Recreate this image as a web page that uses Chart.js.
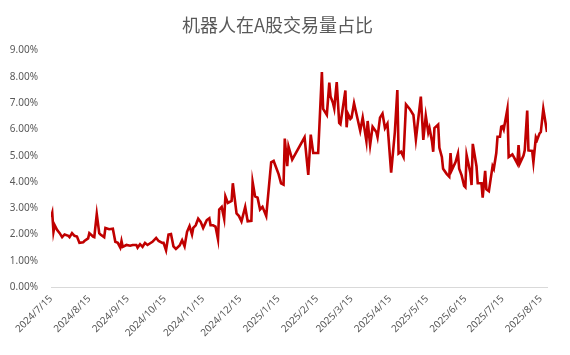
<!DOCTYPE html>
<html>
<head>
<meta charset="utf-8">
<script src="https://cdn.jsdelivr.net/npm/chart.js@4/dist/chart.umd.min.js"></script>
<style>
  html, body { margin: 0; padding: 0; background: #fff; }
  #wrap { width: 570px; height: 355px; }
</style>
</head>
<body>
<div id="wrap"><canvas id="shareChart" width="570" height="355"></canvas></div>
<script>
// trading dates and robot share of A-share turnover (%)
var dates = [
  '2024/7/15','2024/7/16','2024/7/17','2024/7/18','2024/7/20','2024/7/22','2024/7/24','2024/7/26','2024/7/29','2024/7/30',
  '2024/8/1','2024/8/3','2024/8/5','2024/8/7','2024/8/10','2024/8/11','2024/8/14','2024/8/15','2024/8/18','2024/8/19',
  '2024/8/21','2024/8/23','2024/8/24','2024/8/27','2024/8/28','2024/8/31','2024/9/3','2024/9/5','2024/9/7','2024/9/9',
  '2024/9/10','2024/9/11','2024/9/14','2024/9/17','2024/9/19','2024/9/22','2024/9/23','2024/9/25','2024/9/27','2024/9/29',
  '2024/10/1','2024/10/5','2024/10/8','2024/10/10','2024/10/13','2024/10/14','2024/10/16','2024/10/18','2024/10/20','2024/10/22',
  '2024/10/24','2024/10/27','2024/10/29','2024/10/31','2024/11/2','2024/11/4','2024/11/6','2024/11/7','2024/11/9','2024/11/11',
  '2024/11/13','2024/11/15','2024/11/17','2024/11/18','2024/11/20','2024/11/21','2024/11/23','2024/11/25','2024/11/27','2024/11/28',
  '2024/11/30','2024/12/2','2024/12/3','2024/12/5','2024/12/8','2024/12/9','2024/12/12','2024/12/14','2024/12/16','2024/12/19',
  '2024/12/21','2024/12/24','2024/12/25','2024/12/27','2024/12/29','2024/12/31','2025/1/2','2025/1/5','2025/1/9','2025/1/11',
  '2025/1/15','2025/1/17','2025/1/19','2025/1/20','2025/1/22','2025/1/23','2025/1/26','2025/2/5','2025/2/8','2025/2/10',
  '2025/2/12','2025/2/16','2025/2/19','2025/2/20','2025/2/23','2025/2/25','2025/2/26','2025/2/28','2025/3/1','2025/3/3',
  '2025/3/5','2025/3/6','2025/3/10','2025/3/11','2025/3/12','2025/3/14','2025/3/15','2025/3/17','2025/3/19','2025/3/22',
  '2025/3/24','2025/3/27','2025/3/28','2025/3/30','2025/4/1','2025/4/4','2025/4/5','2025/4/7','2025/4/9','2025/4/11',
  '2025/4/13','2025/4/16','2025/4/19','2025/4/21','2025/4/22','2025/4/24','2025/4/26','2025/4/28','2025/5/1','2025/5/4',
  '2025/5/6','2025/5/10','2025/5/12','2025/5/14','2025/5/16','2025/5/17','2025/5/19','2025/5/20','2025/5/21','2025/5/24',
  '2025/5/25','2025/5/27','2025/5/28','2025/5/31','2025/6/2','2025/6/3','2025/6/4','2025/6/7','2025/6/9','2025/6/10',
  '2025/6/12','2025/6/14','2025/6/15','2025/6/16','2025/6/19','2025/6/20','2025/6/21','2025/6/24','2025/6/25','2025/6/28',
  '2025/6/29','2025/7/1','2025/7/2','2025/7/4','2025/7/7','2025/7/8','2025/7/10','2025/7/11','2025/7/13','2025/7/14',
  '2025/7/15','2025/7/16','2025/7/19','2025/7/20','2025/7/23','2025/7/25','2025/7/27','2025/7/28','2025/7/29','2025/8/1',
  '2025/8/2','2025/8/4','2025/8/5','2025/8/8','2025/8/9','2025/8/11','2025/8/12','2025/8/14','2025/8/15','2025/8/17',
  '2025/8/20'
];
var shares = [
  2.65, 2.82, 2.10, 2.35, 2.17, 2.05, 1.90, 2.00, 1.95, 1.90,
  2.05, 1.95, 1.92, 1.68, 1.70, 1.75, 1.85, 2.05, 1.92, 1.90,
  2.78, 2.05, 2.00, 1.90, 2.25, 2.20, 2.22, 1.72, 1.68, 1.50,
  1.75, 1.53, 1.60, 1.57, 1.60, 1.60, 1.50, 1.63, 1.53, 1.68,
  1.60, 1.72, 1.87, 1.75, 1.68, 1.68, 1.40, 2.00, 2.02, 1.55,
  1.45, 1.58, 1.78, 1.55, 2.10, 2.32, 2.00, 2.25, 2.35, 2.60,
  2.48, 2.25, 2.45, 2.55, 2.62, 2.35, 2.35, 2.30, 1.82, 2.95,
  3.05, 2.60, 3.45, 3.20, 3.28, 3.95, 2.80, 2.70, 2.50, 3.05,
  2.50, 2.52, 4.00, 3.45, 3.40, 2.95, 3.05, 2.70, 4.75, 4.80,
  4.30, 3.95, 3.90, 5.65, 4.60, 5.35, 4.85, 5.70, 4.27, 5.80,
  5.10, 5.10, 8.18, 6.78, 6.55, 7.78, 7.25, 7.00, 6.80, 7.80,
  6.25, 6.20, 7.48, 6.08, 6.60, 6.40, 6.45, 7.00, 6.58, 5.95,
  6.45, 5.55, 6.32, 5.40, 6.10, 5.90, 5.70, 6.45, 6.60, 6.05,
  6.22, 4.35, 5.90, 7.50, 5.08, 5.15, 4.95, 6.95, 6.78, 6.55,
  5.62, 7.25, 5.60, 6.52, 5.88, 6.05, 5.55, 5.15, 6.05, 6.18,
  5.30, 4.95, 4.50, 4.30, 4.20, 5.10, 4.45, 4.75, 5.08, 4.50,
  4.25, 3.85, 3.80, 5.02, 4.35, 3.88, 5.45, 4.60, 3.95, 3.95,
  3.40, 4.42, 3.72, 3.65, 4.60, 4.50, 5.10, 5.72, 5.72, 6.10,
  6.12, 6.00, 6.78, 4.95, 5.05, 4.88, 4.70, 5.40, 4.70, 5.00,
  5.20, 6.72, 5.20, 5.18, 4.75, 5.70, 5.60, 5.85, 5.90, 6.78,
  5.90
];
var tickDates = ['2024/7/15','2024/8/15','2024/9/15','2024/10/15','2024/11/15','2024/12/15',
  '2025/1/15','2025/2/15','2025/3/15','2025/4/15','2025/5/15','2025/6/15','2025/7/15','2025/8/15'];
var yTicks = [0, 1, 2, 3, 4, 5, 6, 7, 8, 9];

function dayNum(s) {
  var p = s.split('/');
  return Math.round(Date.UTC(+p[0], +p[1] - 1, +p[2]) / 86400000);
}
var day0 = dayNum(dates[0]);
var points = dates.map(function (d, i) { return { x: dayNum(d) - day0, y: shares[i] }; });
var tickDays = tickDates.map(function (d) { return dayNum(d) - day0; });

var grey = '#595959';
var tickFont = { family: "'Noto Sans', sans-serif", size: 10 };

var ctx = document.getElementById('shareChart').getContext('2d');
var chart = new Chart(ctx, {
  type: 'line',
  data: {
    datasets: [{
      data: points,
      borderColor: '#C00000',
      borderWidth: 2.6,
      pointRadius: 0,
      fill: false,
      tension: 0
    }]
  },
  options: {
    responsive: false,
    animation: false,
    devicePixelRatio: 1,
    layout: { padding: { left: 8, right: 23, top: 0, bottom: 0 } },
    plugins: {
      legend: { display: false },
      tooltip: { enabled: false },
      title: {
        display: true,
        text: '机器人在A股交易量占比',
        color: grey,
        font: { family: "'Noto Sans CJK SC', sans-serif", size: 18, weight: 'normal', lineHeight: 1.2 },
        padding: { top: 14, bottom: 15 }
      }
    },
    scales: {
      x: {
        type: 'linear',
        min: 0,
        max: points[points.length - 1].x,
        grid: { display: false, drawTicks: false },
        border: { display: true, color: '#D9D9D9', width: 1 },
        afterBuildTicks: function (axis) {
          axis.ticks = tickDays.map(function (v) { return { value: v }; });
        },
        afterFit: function (axis) { axis.height = 68; },
        ticks: {
          color: grey,
          font: tickFont,
          autoSkip: false,
          minRotation: 45,
          maxRotation: 45,
          padding: 6,
          callback: function (v) {
            var i = tickDays.indexOf(v);
            return i >= 0 ? tickDates[i] : '';
          }
        }
      },
      y: {
        min: 0,
        max: 9,
        grid: { display: false, drawTicks: false },
        border: { display: false },
        afterBuildTicks: function (axis) {
          axis.ticks = yTicks.map(function (v) { return { value: v }; });
        },
        afterFit: function (axis) { axis.width = 43; },
        ticks: {
          color: grey,
          font: tickFont,
          padding: 13,
          callback: function (v) { return v.toFixed(2) + '%'; }
        }
      }
    }
  }
});
</script>
</body>
</html>
